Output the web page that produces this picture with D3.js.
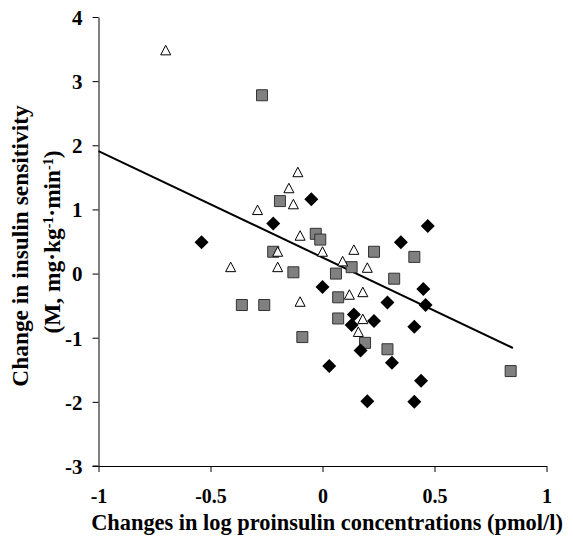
<!DOCTYPE html>
<html><head><meta charset="utf-8">
<script src="https://cdn.jsdelivr.net/npm/d3@7"></script>
<style>body{margin:0;background:#fff}svg{display:block}</style>
</head><body>
<svg id="c" width="573" height="538"></svg>
<script>
// Data
const triangles = [[-0.70,3.48],[-0.11,1.58],[-0.15,1.33],[-0.13,1.08],[-0.29,0.99],[-0.10,0.59],[-0.20,0.34],[-0.41,0.10],[-0.20,0.10],[-0.10,-0.44],[0.00,0.34],[0.14,0.37],[0.09,0.19],[0.20,0.09],[0.12,-0.33],[0.18,-0.29],[0.18,-0.71],[0.16,-0.91]];
const squares = [[-0.27,2.78],[-0.19,1.13],[-0.03,0.62],[-0.01,0.53],[-0.22,0.34],[0.23,0.34],[-0.13,0.02],[0.06,0.00],[0.13,0.10],[0.07,-0.37],[-0.36,-0.49],[-0.26,-0.49],[0.07,-0.70],[-0.09,-0.99],[0.19,-1.08],[0.41,0.26],[0.32,-0.08],[0.29,-1.18],[0.84,-1.52]];
const diamonds = [[-0.05,1.16],[-0.22,0.78],[-0.54,0.49],[0.47,0.74],[0.35,0.49],[0.00,-0.21],[0.45,-0.24],[0.46,-0.49],[0.29,-0.45],[0.14,-0.64],[0.23,-0.74],[0.13,-0.80],[0.41,-0.83],[0.17,-1.20],[0.31,-1.39],[0.03,-1.44],[0.44,-1.67],[0.20,-1.99],[0.41,-2.00]];
const regression = [[-1.0,1.91],[0.85,-1.16]];
const xTicks = [-1,-0.5,0,0.5,1];
const yTicks = [-3,-2,-1,0,1,2,3,4];

const svg = d3.select("#c");
const x = d3.scaleLinear().domain([-1,1]).range([98.5,546.5]);
const y = d3.scaleLinear().domain([-3,4]).range([466,17]);
const font = "'Liberation Serif','Times New Roman',serif";

// axes
const xAxis = svg.append("g").attr("transform",`translate(0,${y(-3)})`)
  .call(d3.axisBottom(x).tickValues(xTicks).tickSize(6).tickSizeOuter(0).tickFormat(d=>String(d)));
const yAxis = svg.append("g").attr("transform",`translate(${x(-1)},0)`)
  .call(d3.axisLeft(y).tickValues(yTicks).tickSize(6).tickSizeOuter(0).tickFormat(d=>String(d)));
[xAxis,yAxis].forEach(g=>{
  g.selectAll("path.domain").attr("stroke","#000").attr("stroke-width",1);
  g.selectAll(".tick line").attr("stroke","#000");
  g.selectAll("text").attr("font-family",font).attr("font-weight","bold").attr("fill","#000");
});
xAxis.selectAll("text").attr("font-size",20).attr("y",37).attr("dy","0");
yAxis.selectAll("text").attr("font-size",21).attr("x",-16).attr("dy","0.35em");
// extend x axis line slightly left
svg.append("line").attr("x1",x(-1)-6).attr("x2",x(-1)).attr("y1",y(-3)).attr("y2",y(-3)).attr("stroke","#000");

// regression line
svg.append("line")
  .attr("x1",x(regression[0][0])).attr("y1",y(regression[0][1]))
  .attr("x2",x(regression[1][0])).attr("y2",y(regression[1][1]))
  .attr("stroke","#000").attr("stroke-width",2);

// markers
svg.append("g").selectAll("path").data(squares).join("path")
  .attr("transform",d=>`translate(${x(d[0])},${y(d[1])})`)
  .attr("d","M-5.5,-5.5H5.5V5.5H-5.5Z")
  .attr("fill","#808080").attr("stroke","#333").attr("stroke-width",1);
svg.append("g").selectAll("path").data(diamonds).join("path")
  .attr("transform",d=>`translate(${x(d[0])},${y(d[1])})`)
  .attr("d","M0,-7L7,0L0,7L-7,0Z")
  .attr("fill","#000");
svg.append("g").selectAll("path").data(triangles).join("path")
  .attr("transform",d=>`translate(${x(d[0])},${y(d[1])})`)
  .attr("d","M0,-5L5,4.5H-5Z")
  .attr("fill","#fff").attr("stroke","#000").attr("stroke-width",1);

// titles
svg.append("text").attr("x",327).attr("y",530).attr("text-anchor","middle")
  .attr("font-family",font).attr("font-weight","bold").attr("font-size",22.4)
  .text("Changes in log proinsulin concentrations (pmol/l)");
const yt = svg.append("g").attr("transform","translate(0,246) rotate(-90)");
yt.append("text").attr("x",0).attr("y",28).attr("text-anchor","middle")
  .attr("font-family",font).attr("font-weight","bold").attr("font-size",23.4)
  .text("Change in insulin sensitivity");
const t2 = yt.append("text").attr("x",4).attr("y",60).attr("text-anchor","middle")
  .attr("font-family",font).attr("font-weight","bold").attr("font-size",23.4);
t2.append("tspan").text("(M, mg\u00B7kg");
t2.append("tspan").attr("baseline-shift","super").attr("font-size",14).text("-1");
t2.append("tspan").text("\u00B7min");
t2.append("tspan").attr("baseline-shift","super").attr("font-size",14).text("-1");
t2.append("tspan").text(")");
</script>
</body></html>
